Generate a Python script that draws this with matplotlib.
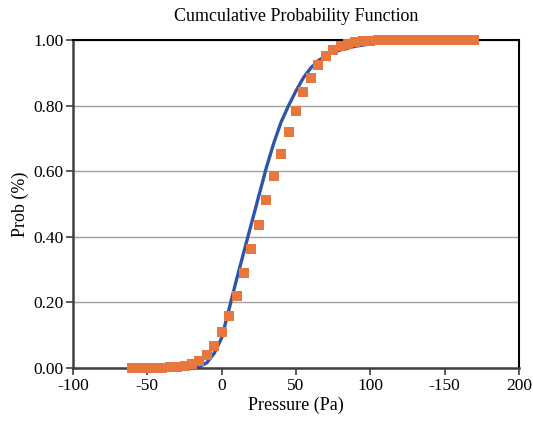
import matplotlib
matplotlib.use("Agg")
import matplotlib.pyplot as plt
from matplotlib.ticker import FormatStrFormatter

# Empirical points (orange squares)
pressure_pts = [-60, -55, -50, -45, -40, -35, -30, -25, -20, -15, -10, -5, 0, 5, 10,
                15, 20, 25, 30, 35, 40, 45, 50, 55, 60, 65, 70, 75, 80, 85, 90, 95,
                100, 105, 110, 115, 120, 125, 130, 135, 140, 145, 150, 155, 160, 165, 170]
prob_pts = [0.0, 0.0, 0.0, 0.0, 0.001, 0.002, 0.004, 0.007, 0.012, 0.022, 0.04, 0.066,
            0.11, 0.16, 0.22, 0.29, 0.362, 0.436, 0.512, 0.585, 0.652, 0.72, 0.784,
            0.84, 0.885, 0.924, 0.95, 0.97, 0.982, 0.989, 0.993, 0.996, 0.998, 0.999,
            0.999, 1.0, 1.0, 1.0, 1.0, 1.0, 1.0, 1.0, 1.0, 1.0, 1.0, 1.0, 1.0]

# Fitted curve (blue line)
pressure_fit = [-20, -15, -10, -5, 0, 5, 10, 15, 20, 25, 30, 35, 40, 45, 50, 55, 60,
                65, 70, 75, 80, 90, 100, 110, 120, 140, 170]
prob_fit = [0.0, 0.004, 0.016, 0.045, 0.092, 0.18, 0.27, 0.355, 0.44, 0.525, 0.61,
            0.685, 0.75, 0.80, 0.845, 0.885, 0.915, 0.937, 0.952, 0.962, 0.97, 0.981,
            0.988, 0.993, 0.996, 0.999, 1.0]

x_ticks = [-100, -50, 0, 50, 100, 150, 200]
x_tick_labels = ["-100", "-50", "0", "50", "100", "-150", "200"]
y_ticks = [0.0, 0.2, 0.4, 0.6, 0.8, 1.0]

plt.rcParams['font.family'] = ['Liberation Serif', 'DejaVu Serif']

fig = plt.figure(figsize=(5.33, 4.21), dpi=100)
ax = fig.add_axes([73/533, 1 - 368/421, (519-73)/533, (368-40)/421])

ax.plot(pressure_fit, prob_fit, color='#2F55A8', lw=2.4, zorder=2)
ax.plot(pressure_pts, prob_pts, linestyle='none', marker='s', markersize=7.3,
        color='#E8773D', markeredgewidth=0, zorder=3, clip_on=False)

ax.set_xlim(-100, 200)
ax.set_ylim(0, 1)
ax.set_xticks(x_ticks)
ax.set_xticklabels(x_tick_labels)
ax.set_yticks(y_ticks)
ax.yaxis.set_major_formatter(FormatStrFormatter('%.2f'))
ax.yaxis.grid(True, color='#A0A0A0', lw=1.0)
ax.set_axisbelow(True)

for s in ['left', 'bottom']:
    ax.spines[s].set_color('#404040')
    ax.spines[s].set_linewidth(1.8)
for s in ['top', 'right']:
    ax.spines[s].set_color('black')
    ax.spines[s].set_linewidth(1.5)

ax.tick_params(axis='both', labelsize=12.5, direction='out', length=5, width=1.2,
               color='#404040', pad=2)
ax.set_xlabel('Pressure (Pa)', fontsize=13, labelpad=2)
ax.set_ylabel('Prob (%)', fontsize=13, labelpad=3)
ax.set_title('Cumculative Probability Function', fontsize=13, pad=14)

fig.savefig('out.png', dpi=100)
